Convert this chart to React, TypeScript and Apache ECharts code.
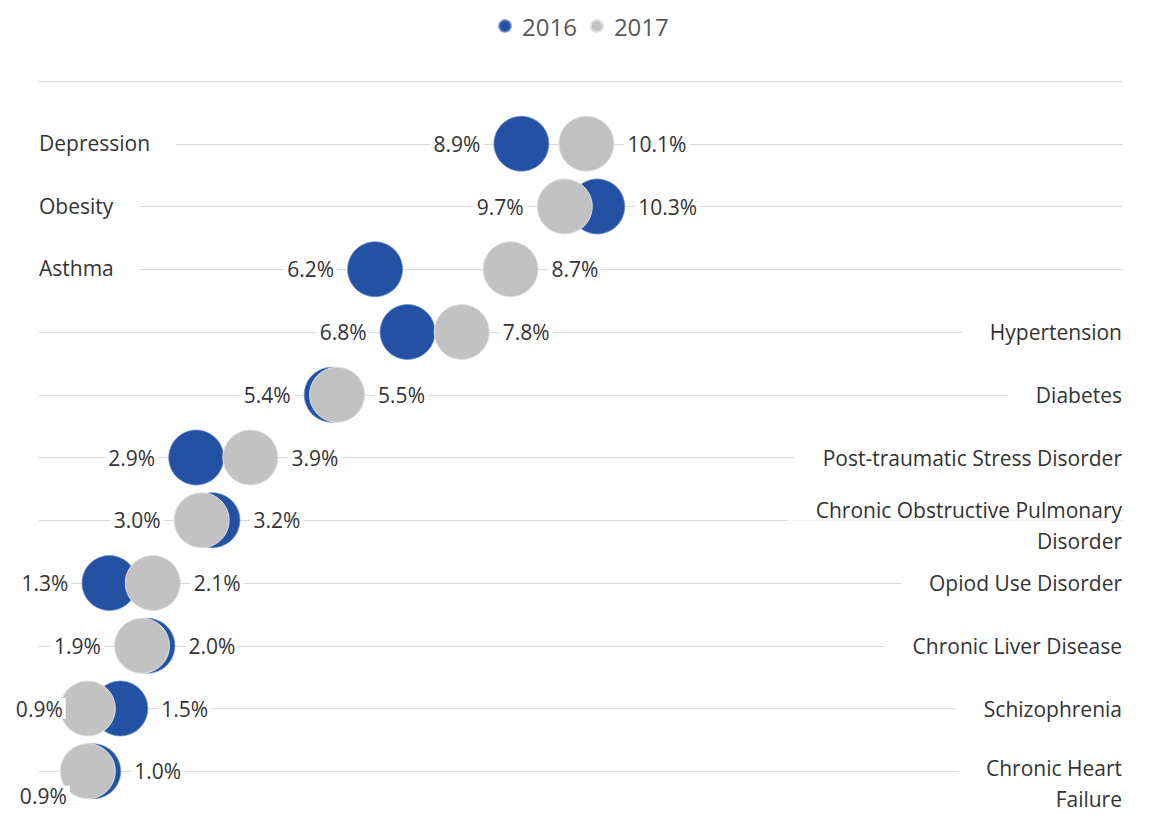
import React, { useEffect, useRef } from 'react';
import * as echarts from 'echarts';

// ---- data ----
const categories: string[] = [
  'Depression',
  'Obesity',
  'Asthma',
  'Hypertension',
  'Diabetes',
  'Post-traumatic Stress Disorder',
  'Chronic Obstructive Pulmonary\nDisorder',
  'Opiod Use Disorder',
  'Chronic Liver Disease',
  'Schizophrenia',
  'Chronic Heart\nFailure',
];
const values2016: number[] = [8.9, 10.3, 6.2, 6.8, 5.4, 2.9, 3.2, 1.3, 2.0, 1.5, 1.0];
const values2017: number[] = [10.1, 9.7, 8.7, 7.8, 5.5, 3.9, 3.0, 2.1, 1.9, 0.9, 0.9];
const seriesNames: string[] = ['2016', '2017'];

// categories whose label sits on the left side
const LEFT_LABEL_COUNT = 3;

const BLUE = '#2352a5';
const GRAY = '#c2c2c2';
const FONT = "'Open Sans', 'Noto Sans', sans-serif";
const TEXT = '#333333';

function buildData(vals: number[], other: number[]) {
  const last = vals.length - 1;
  return vals.map((v, i) => {
    const onLeft = v < other[i];
    const label: any = { position: onLeft ? 'left' : 'right' };
    if (onLeft && v < 1) {
      // too close to the plot edge: pull the label in; bottom row drops below
      label.offset = i === last ? [20, 25] : [16, 0];
    }
    return { value: [v, i + 1], label };
  });
}

export default function App() {
  const ref = useRef<HTMLDivElement>(null);

  useEffect(() => {
    if (!ref.current) return;
    const chart = echarts.init(ref.current, undefined, { renderer: 'svg' });
    const rows = categories.length + 1;
    const lastIdx = categories.length;

    const valueLabel = {
      show: true,
      distance: 10,
      formatter: (p: any) => p.value[0].toFixed(1) + '%',
      color: TEXT,
      opacity: 1,
      fontSize: 21,
      fontFamily: FONT,
      backgroundColor: '#ffffff',
      padding: [0, 3],
    };

    const richRight = {
      fontSize: 21,
      fontFamily: FONT,
      color: TEXT,
      backgroundColor: '#ffffff',
      lineHeight: 31,
      padding: [0, 0, 0, 28],
      align: 'right',
    };

    const option: any = {
      animation: false,
      backgroundColor: '#ffffff',
      legend: {
        data: seriesNames,
        left: 493,
        top: 9,
        icon: 'circle',
        itemWidth: 24,
        itemHeight: 12,
        itemGap: 13,
        selectedMode: false,
        textStyle: { fontSize: 24, color: '#595959', fontFamily: FONT },
      },
      grid: { left: 39, top: 81, width: 1084, height: 758 },
      xAxis: {
        type: 'value',
        min: 0,
        max: 20,
        show: false,
        splitLine: { show: false },
      },
      yAxis: [
        {
          type: 'value',
          min: 0,
          max: rows,
          interval: 1,
          inverse: true,
          position: 'left',
          axisLine: { show: false },
          axisTick: { show: false },
          splitLine: { show: true, lineStyle: { color: '#d9d9d9', width: 1 } },
          axisLabel: {
            inside: true,
            margin: 0,
            formatter: (v: number) =>
              v >= 1 && v <= LEFT_LABEL_COUNT ? '{a|' + categories[v - 1] + '}' : '',
            rich: {
              a: {
                fontSize: 21,
                fontFamily: FONT,
                color: TEXT,
                backgroundColor: '#ffffff',
                padding: [5, 26, 7, 0],
                align: 'left',
              },
            },
          },
        },
        {
          type: 'value',
          min: 0,
          max: rows,
          interval: 1,
          inverse: true,
          position: 'right',
          axisLine: { show: false },
          axisTick: { show: false },
          splitLine: { show: false },
          axisLabel: {
            inside: true,
            margin: 1,
            formatter: (v: number) => {
              if (!(v > LEFT_LABEL_COUNT && v <= categories.length)) return '';
              const lines = categories[v - 1].split('\n');
              return lines
                .map((s, k) => {
                  let st = 'a';
                  if (lines.length > 1) {
                    if (k === 0) st = v === lastIdx ? 'b' : 'c';
                    else st = 'd';
                  }
                  return '{' + st + '|' + s + '}';
                })
                .join('\n');
            },
            rich: {
              a: richRight,
              b: { ...richRight, lineHeight: 46, verticalAlign: 'bottom' },
              c: { ...richRight, lineHeight: 32, verticalAlign: 'bottom' },
              d: { ...richRight, lineHeight: 31, verticalAlign: 'bottom' },
            },
          },
        },
      ],
      series: [
        {
          name: seriesNames[0],
          type: 'scatter',
          symbol: 'circle',
          symbolSize: 55,
          silent: true,
          itemStyle: {
            color: BLUE,
            opacity: 1,
            borderColor: 'rgba(110,140,205,0.7)',
            borderWidth: 1,
          },
          label: valueLabel,
          data: buildData(values2016, values2017),
        },
        {
          name: seriesNames[1],
          type: 'scatter',
          symbol: 'circle',
          symbolSize: 55,
          silent: true,
          itemStyle: {
            color: GRAY,
            opacity: 1,
            borderColor: 'rgba(225,225,225,1)',
            borderWidth: 1,
          },
          label: valueLabel,
          data: buildData(values2017, values2016),
        },
      ],
    };

    chart.setOption(option);
    return () => chart.dispose();
  }, []);

  return (
    <div
      ref={ref}
      style={{
        position: 'fixed',
        left: 0,
        top: 0,
        width: 1149,
        height: 834,
        background: '#ffffff',
      }}
    />
  );
}
